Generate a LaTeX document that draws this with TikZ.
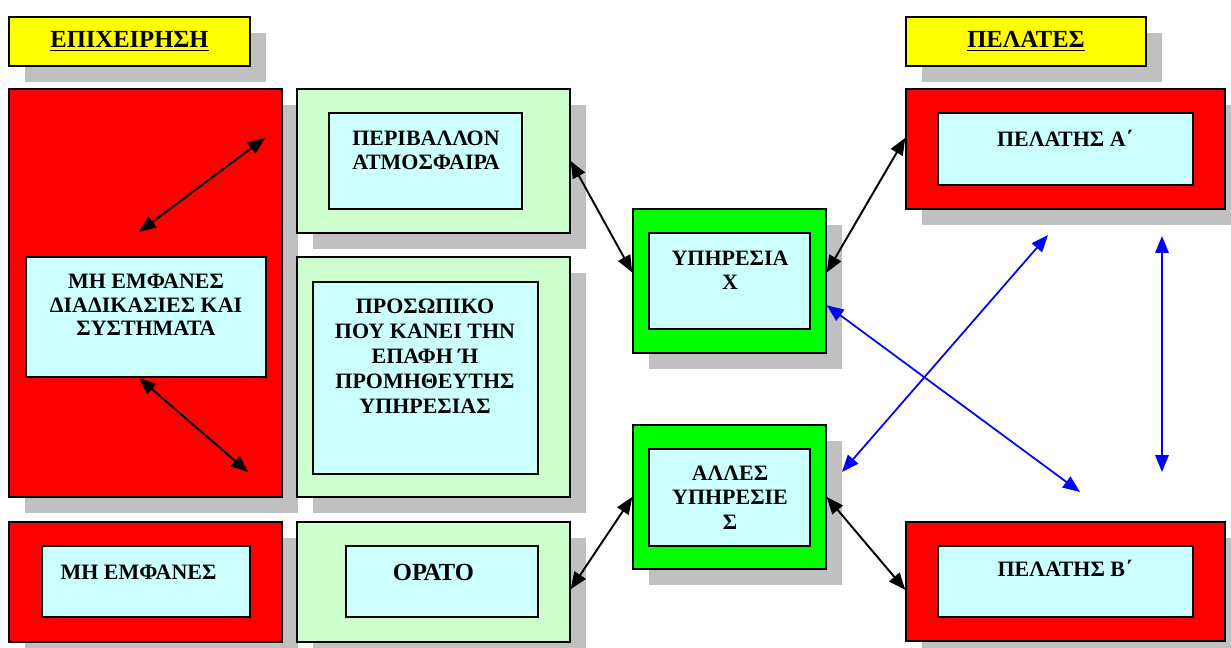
\documentclass[tikz,border=0pt]{standalone}
\usepackage{fontspec}
\setmainfont{Liberation Serif}
\usetikzlibrary{arrows.meta,shadows}
\definecolor{boxred}{RGB}{255,0,0}
\definecolor{boxgreen}{RGB}{0,255,0}
\definecolor{palegreen}{RGB}{204,255,204}
\definecolor{palecyan}{RGB}{204,255,255}
\definecolor{hdryellow}{RGB}{255,255,0}
\definecolor{shadowgrey}{RGB}{192,192,192}
\definecolor{linkblue}{RGB}{0,0,255}
\tikzset{
  panel/.style 2 args={draw=black,line width=0.8pt,inner sep=0pt,
    minimum width=#1*0.02cm,minimum height=#2*0.02cm,
    drop shadow={shadow xshift=0.32cm,shadow yshift=-0.32cm,fill=shadowgrey,draw=none,opacity=1}},
  inbox/.style 2 args={draw=black,line width=0.8pt,fill=palecyan,inner sep=0pt,
    minimum width=#1*0.02cm,minimum height=#2*0.02cm},
  caption/.style={font=\fontsize{12.5}{13.5}\selectfont\bfseries,align=center,inner sep=0pt},
  heading/.style={font=\fontsize{14}{16}\selectfont\bfseries,inner sep=0pt},
  link/.style={line width=1.1pt,{Triangle[length=0.34cm,width=0.27cm]}-{Triangle[length=0.34cm,width=0.27cm]}},
  bluelink/.style={link,draw=linkblue,fill=linkblue,line width=1pt}
}
\begin{document}
\begin{tikzpicture}[x=0.02cm,y=-0.02cm]
\useasboundingbox (0,0) rectangle (1231,648);
% company side
\node[panel={241}{49},fill=hdryellow,heading] (firm) at (129.5,41.5) {\underline{ΕΠΙΧΕΙΡΗΣΗ}};
\node[panel={273}{408},fill=boxred] (invis) at (145.5,293) {};
\node[inbox={240}{120}] (invin) at (146,317) {};
\node[caption] (invtx) at (146,305) {ΜΗ ΕΜΦΑΝΕΣ\\ΔΙΑΔΙΚΑΣΙΕΣ ΚΑΙ\\ΣΥΣΤΗΜΑΤΑ};
\node[panel={273}{120},fill=boxred] (hidden) at (145.5,582) {};
\node[inbox={208}{71}] (hiddenin) at (146,581.5) {};
\node[caption] (hiddentx) at (138.5,572) {ΜΗ ΕΜΦΑΝΕΣ};
\node[panel={273}{144},fill=palegreen] (env) at (433.5,161) {};
\node[inbox={193}{96}] (envin) at (425.5,161) {};
\node[caption] (envtx) at (426,150) {ΠΕΡΙΒΑΛΛΟΝ\\ΑΤΜΟΣΦΑΙΡΑ};
\node[panel={273}{240},fill=palegreen] (staff) at (433.5,377) {};
\node[inbox={225}{192}] (staffin) at (425.5,378) {};
\node[caption,font=\fontsize{12.5}{14.2}\selectfont\bfseries] (stafftx) at (425,356.5)
  {ΠΡΟΣΩΠΙΚΟ\\ΠΟΥ ΚΑΝΕΙ ΤΗΝ\\ΕΠΑΦΗ Ή\\ΠΡΟΜΗΘΕΥΤΗΣ\\ΥΠΗΡΕΣΙΑΣ};
\node[panel={273}{120},fill=palegreen] (visible) at (433.5,582) {};
\node[inbox={192}{71}] (visiblein) at (442,581.5) {};
\node[caption,font=\fontsize{14}{16}\selectfont\bfseries] (visibletx) at (433.5,572) {ΟΡΑΤΟ};
% services
\node[panel={193}{144},fill=boxgreen] (servx) at (729.5,281) {};
\node[inbox={161}{96}] (servxin) at (729.5,281) {};
\node[caption] (servxtx) at (730,270.5) {ΥΠΗΡΕΣΙΑ\\Χ};
\node[panel={193}{144},fill=boxgreen] (other) at (729.5,497) {};
\node[inbox={161}{97}] (otherin) at (729.5,497.5) {};
\node[caption,font=\fontsize{12.5}{14}\selectfont\bfseries] (othertx) at (730,497.5) {ΑΛΛΕΣ\\ΥΠΗΡΕΣΙΕ\\Σ};
% clients
\node[panel={240}{49},fill=hdryellow,heading] (clients) at (1026,41.5) {\underline{ΠΕΛΑΤΕΣ}};
\node[panel={319}{120},fill=boxred] (cla) at (1065.5,149) {};
\node[inbox={255}{72}] (clain) at (1065.5,149) {};
\node[caption] (clatx) at (1065,138) {ΠΕΛΑΤΗΣ Α΄};
\node[panel={319}{119},fill=boxred] (clb) at (1065.5,581.5) {};
\node[inbox={255}{71}] (clbin) at (1065.5,581.5) {};
\node[caption] (clbtx) at (1065,568) {ΠΕΛΑΤΗΣ Β΄};
% connectors
\coordinate (invup) at (265,138);
\coordinate (invmid) at (139,232);
\coordinate (invbase) at (139,378);
\coordinate (invlow) at (248,472);
\draw[link] (invmid) -- (invup);
\draw[link] (invbase) -- (invlow);
\draw[link] (env.east) -- (servx.175);
\draw[link] (servx.5) -- (cla.176);
\draw[link] (visible.-3) -- (other.west);
\draw[link] (other.east) -- (clb.183);
\coordinate (crosslow) at (1080,492);
\coordinate (crosshigh) at (1048,235);
\coordinate (crossend) at (842,472);
\coordinate (sidetop) at (1162,236);
\coordinate (sidebot) at (1162,472);
\draw[bluelink] (servx.-14) -- (crosslow);
\draw[bluelink] (crossend) -- (crosshigh);
\draw[bluelink] (sidetop) -- (sidebot);
\end{tikzpicture}
\end{document}
